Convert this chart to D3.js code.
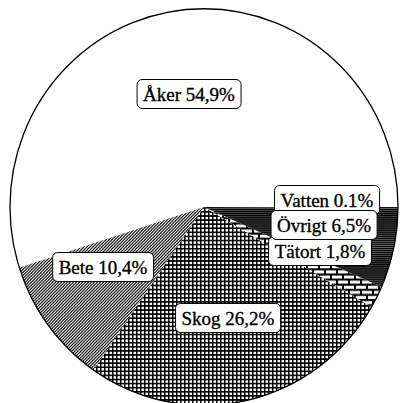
<!DOCTYPE html>
<html>
<head>
<meta charset="utf-8">
<script src="https://cdn.jsdelivr.net/npm/d3@7"></script>
<style>
  body { margin: 0; background: #fff; }
  text { font-family: "Liberation Serif", "DejaVu Serif", serif; }
</style>
</head>
<body>
<div id="graph"></div>
<script>

// data
var categories = ["Åker", "Bete", "Skog", "Tätort", "Övrigt", "Vatten"];
var shares = [54.9, 10.4, 26.2, 1.8, 6.5, 0.1];
var shareLabels = ["54,9%", "10,4%", "26,2%", "1,8%", "6,5%", "0.1%"];

// label box centres (layout only)
var labelAt = {
  "Åker":   [189, 94],
  "Bete":   [103, 267],
  "Skog":   [228, 318],
  "Tätort": [320, 251],
  "Vatten": [327, 200],
  "Övrigt": [324, 225]
};
// drawing order of the labels (Övrigt sits on top)
var labelOrder = ["Åker", "Bete", "Skog", "Tätort", "Vatten", "Övrigt"];

var width = 401, height = 403;
var cx = 204, cy = 207, r = 194;

var svg = d3.select("#graph")
  .append("svg")
    .attr("width", width)
    .attr("height", height);

var defs = svg.append("defs");

// Bete: fine diagonal hatch
var p = defs.append("pattern").attr("id", "pat-bete")
  .attr("patternUnits", "userSpaceOnUse").attr("width", 3).attr("height", 3);
p.append("rect").attr("width", 3).attr("height", 3).attr("fill", "#fff");
p.append("path").attr("d", "M-1,1 L1,-1 M0,3 L3,0 M2,4 L4,2")
  .attr("stroke", "#000").attr("stroke-width", 1.1);

// Skog: square grid
p = defs.append("pattern").attr("id", "pat-skog")
  .attr("patternUnits", "userSpaceOnUse").attr("width", 4).attr("height", 4);
p.append("rect").attr("width", 4).attr("height", 4).attr("fill", "#fff");
p.append("path").attr("d", "M0.75,0 V4 M0,0.75 H4")
  .attr("stroke", "#000").attr("stroke-width", 1.5);

// Tätort: bricks
p = defs.append("pattern").attr("id", "pat-tatort")
  .attr("patternUnits", "userSpaceOnUse").attr("width", 12).attr("height", 10);
p.append("rect").attr("width", 12).attr("height", 10).attr("fill", "#fff");
p.append("path").attr("d", "M0,1 H12 M0,6 H12 M1,0 V5 M7,5 V10")
  .attr("stroke", "#000").attr("stroke-width", 2);

// Övrigt: dense horizontal lines
p = defs.append("pattern").attr("id", "pat-ovrigt")
  .attr("patternUnits", "userSpaceOnUse").attr("width", 4).attr("height", 2);
p.append("rect").attr("width", 4).attr("height", 2).attr("fill", "#666");
p.append("path").attr("d", "M0,0.6 H4")
  .attr("stroke", "#000").attr("stroke-width", 1.2);

var fills = {
  "Åker": "#fff",
  "Bete": "url(#pat-bete)",
  "Skog": "url(#pat-skog)",
  "Tätort": "url(#pat-tatort)",
  "Övrigt": "url(#pat-ovrigt)",
  "Vatten": "#111"
};

var data = categories.map(function(c, i) {
  return { name: c, value: shares[i], label: c + " " + shareLabels[i] };
});

// counter-clockwise from 3 o'clock
var pie = d3.pie()
  .value(function(d) { return d.value; })
  .sort(null)
  .startAngle(Math.PI / 2)
  .endAngle(Math.PI / 2 - 2 * Math.PI);

var arc = d3.arc().innerRadius(0).outerRadius(r);

var g = svg.append("g")
  .attr("transform", "translate(" + cx + "," + cy + ") scale(1,1.022)");

g.selectAll("path.slice")
  .data(pie(data))
  .enter()
  .append("path")
    .attr("class", "slice")
    .attr("d", arc)
    .attr("fill", function(d) { return fills[d.data.name]; });

g.append("circle")
  .attr("r", r)
  .attr("fill", "none")
  .attr("stroke", "#000")
  .attr("stroke-width", 1.3);

// labels
var byName = {};
data.forEach(function(d) { byName[d.name] = d; });

labelOrder.forEach(function(name) {
  var pos = labelAt[name];
  var lg = svg.append("g")
    .attr("transform", "translate(" + pos[0] + "," + pos[1] + ")");
  var box = lg.append("rect");
  var t = lg.append("text")
    .attr("text-anchor", "middle")
    .attr("dy", "0.35em")
    .attr("font-size", 19)
    .attr("fill", "#000")
    .attr("stroke", "#000")
    .attr("stroke-width", 0.35)
    .text(byName[name].label);
  var bb = t.node().getBBox();
  var padX = 6, h = 29;
  box.attr("x", bb.x - padX)
    .attr("y", -h / 2)
    .attr("width", bb.width + 2 * padX)
    .attr("height", h)
    .attr("rx", 5)
    .attr("fill", "#fff")
    .attr("stroke", "#000")
    .attr("stroke-width", 1);
});

</script>
</body>
</html>
